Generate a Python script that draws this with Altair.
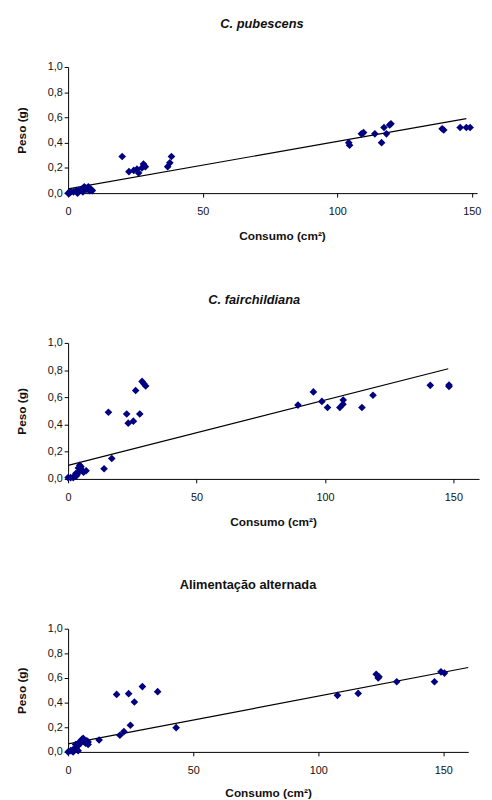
import altair as alt
import pandas as pd

# ---- Panel 1: C. pubescens ----
p1_x = [0, 0.5, 1, 2, 3, 3.5, 4, 5, 5.5, 6, 6.5, 7, 7.5, 8, 8.5, 9,
        20.1, 22.6, 24.4, 25.6, 26.2, 27.4, 28, 28.7, 37, 37.8, 38.4,
        104.3, 104.6, 109, 109.8, 114, 116.5, 117.4, 118.3, 119.5, 120,
        139, 139.6, 145.7, 148, 149.4]
p1_y = [0, 0, 0.01, 0.01, 0.02, 0.0, 0.02, 0.03, 0.01, 0.05, 0.04, 0.03, 0.05, 0.02, 0.03, 0.02,
        0.29, 0.17, 0.18, 0.19, 0.16, 0.20, 0.23, 0.21, 0.21, 0.24, 0.29,
        0.40, 0.38, 0.47, 0.48, 0.47, 0.40, 0.52, 0.47, 0.54, 0.55,
        0.51, 0.50, 0.52, 0.52, 0.52]
p1_trend_x = [0, 148]
p1_trend_y = [0.034, 0.59]

# ---- Panel 2: C. fairchildiana ----
p2_x = [0, 1, 2, 2.5, 3, 3, 3.5, 4, 4, 4.5, 5, 5, 5.5, 6, 7,
        14.0, 17.0, 15.7, 22.8, 23.4, 25.4, 27.9, 26.3, 28.8, 29.5, 30.2,
        89.5, 95.5, 98.8, 101, 105.8, 107.1, 107, 114.4, 118.7, 141, 148.3, 148.3]
p2_y = [0.01, 0.01, 0.01, 0.02, 0.02, 0.04, 0.03, 0.05, 0.08, 0.10, 0.07, 0.09, 0.06, 0.05, 0.06,
        0.075, 0.15, 0.49, 0.477, 0.41, 0.425, 0.477, 0.65, 0.717, 0.70, 0.683,
        0.543, 0.64, 0.57, 0.525, 0.525, 0.58, 0.55, 0.525, 0.615, 0.688, 0.68, 0.69]
p2_trend_x = [0, 148]
p2_trend_y = [0.10, 0.81]

# ---- Panel 3: Alimentação alternada ----
p3_x = [0, 1, 2, 2, 3, 3, 4, 4, 4.5, 5, 5.5, 6, 6.5, 7, 7.5, 8, 8,
        12.4, 20.7, 22.3, 24.9, 19.4, 24.2, 26.5, 29.7, 35.8, 43.2,
        107.7, 116, 123.2, 124.3, 124, 131.4, 146.5, 149.1, 150.5]
p3_y = [0.0, 0.01, 0.02, 0.0, 0.03, 0.06, 0.05, 0.01, 0.08, 0.07, 0.10, 0.11, 0.08, 0.07, 0.09, 0.08, 0.06,
        0.097, 0.135, 0.165, 0.216, 0.467, 0.473, 0.405, 0.53, 0.489, 0.197,
        0.459, 0.475, 0.63, 0.61, 0.60, 0.57, 0.57, 0.65, 0.64]
p3_trend_x = [0, 160]
p3_trend_y = [0.065, 0.685]

y_ticks = [0, 0.2, 0.4, 0.6, 0.8, 1.0]
x_ticks = [0, 50, 100, 150]


def panel(xs, ys, tx, ty, title, italic, xmax, w, h, toff, tdx, title_x, xtpad):
    pts = pd.DataFrame({"Consumo": xs, "Peso": ys})
    tr = pd.DataFrame({"Consumo": tx, "Peso": ty})
    xenc = alt.X(
        "Consumo:Q",
        scale=alt.Scale(domain=[0, xmax], nice=False, zero=True),
        axis=alt.Axis(values=x_ticks, title="Consumo (cm²)", titleX=title_x,
                      titlePadding=xtpad, labelPadding=9),
    )
    yenc = alt.Y(
        "Peso:Q",
        scale=alt.Scale(domain=[0, 1], nice=False),
        axis=alt.Axis(
            values=y_ticks,
            format=".1f",
            labelExpr="replace(datum.label, '.', ',')",
            title="Peso (g)",
            titlePadding=19,
        ),
    )
    line = alt.Chart(tr).mark_line(color="black", strokeWidth=1.2).encode(x=xenc, y=yenc)
    points = alt.Chart(pts).mark_point(
        shape="diamond", filled=True, color="#000080", size=60, opacity=1
    ).encode(x=xenc, y=yenc)
    return alt.layer(line, points).properties(
        width=w,
        height=h,
        title=alt.TitleParams(
            title,
            fontStyle="italic" if italic else "normal",
            offset=toff,
            dx=tdx,
            frame="bounds",
            anchor="middle",
        ),
    )


c1 = panel(p1_x, p1_y, p1_trend_x, p1_trend_y, "C. pubescens", True, 152, 415, 128, 31, 14, 217, 14)
c2 = panel(p2_x, p2_y, p2_trend_x, p2_trend_y, "C. fairchildiana", True, 160, 417, 138, 31, 7, 208, 14)
c3 = panel(p3_x, p3_y, p3_trend_x, p3_trend_y, "Alimentação alternada", False, 160, 406, 125, 31, 5, 203, 12)

chart = alt.vconcat(c1, c2, c3, spacing=53).properties(
    padding={"top": 4, "left": 7, "right": 3, "bottom": 0}
).configure_view(stroke=None).configure_axis(
    grid=False,
    labelFont="Liberation Sans",
    labelFontSize=11,
    labelColor="#111111",
    labelOverlap=False,
    labelFlush=False,
    titleFont="Liberation Sans",
    titleFontSize=12,
    titleFontWeight="bold",
    titleColor="#111111",
    domainColor="black",
    tickColor="black",
    tickSize=4,
).configure_title(
    font="Liberation Sans", fontSize=13, fontWeight="bold", color="#111111"
)

chart.save("out.html", embed_options={"renderer": "svg", "actions": False})
